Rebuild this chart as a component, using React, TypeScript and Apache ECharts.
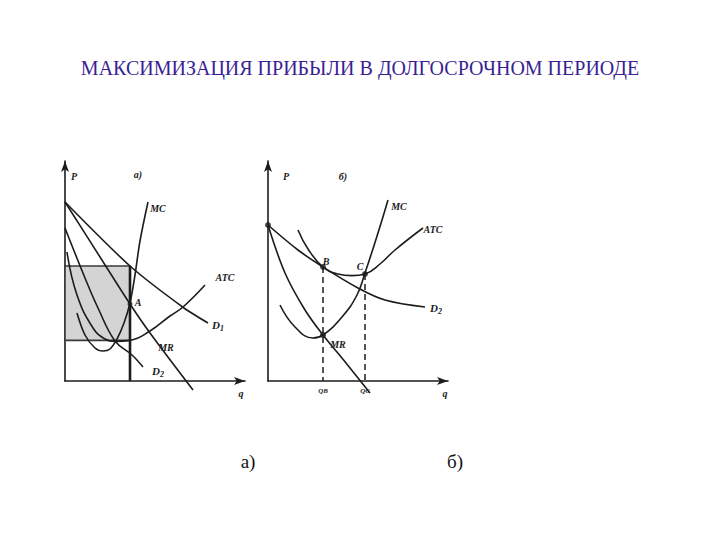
import React, { useEffect, useRef } from "react";
import * as echarts from "echarts";

const titleText = "МАКСИМИЗАЦИЯ ПРИБЫЛИ В ДОЛГОСРОЧНОМ ПЕРИОДЕ";
const captions = ["а)", "б)"];

// Panel а) — curves (q, P) in chart units
const aD1 = [[0, 89.5], [32.5, 57.5], [59.5, 36.5], [71.5, 29]];
const aMR = [[0, 89.5], [17.5, 62], [32.5, 38.5], [42.5, 24], [64, -4.5]];
const aD2 = [[0, 76.5], [10, 51.5], [16.5, 36.5], [25, 20], [33.5, 13], [39, 7]];
const aATC = [[1, 64.5], [6, 43], [14, 26.5], [20, 21], [25, 19.8], [32.5, 20.3], [42.5, 25], [52.5, 32.5], [59, 37], [70, 48]];
const aMC = [[6, 34], [10, 23], [15, 16.5], [19, 15], [22.5, 16], [26, 21], [29.5, 29], [32.5, 39], [35, 53], [37.5, 70], [41.5, 89.5]];
const aQ = 32.5;
const aPrice = 57.5;
const aCost = 20.3;
const aDots = [[32.5, 38.5]];

// Panel б)
const bD2 = [[0, 78], [15, 65.5], [27.5, 57], [45, 46.5], [58.5, 40.5], [78.5, 37]];
const bMR = [[0, 78], [8.5, 54], [18.5, 35.5], [27.5, 23], [39, 9], [51, -6]];
const bATC = [[15, 75.5], [20, 66], [27.5, 57], [35, 53.5], [42, 52.7], [48.5, 53.5], [56, 58.5], [63.5, 65.5], [77.5, 76.5]];
const bMC = [[6, 38], [13.5, 27], [22.5, 21.5], [27.5, 23], [37, 32], [44.5, 43], [48.5, 54], [55, 74], [60, 90.5]];
const bQB = [[27.5, 57], [27.5, 0]];
const bQC = [[48.5, 53.5], [48.5, 0]];
const bDots = [[0, 78], [27.5, 57], [48.5, 53.5], [27.5, 23]];

const INK = "#1c1c1c";
const SERIF = "Liberation Serif, Times New Roman, serif";

function curve(data: number[][], idx: number, smooth: number | boolean = 0.4) {
  return {
    type: "line",
    xAxisIndex: idx,
    yAxisIndex: idx,
    data,
    smooth,
    symbol: "none",
    clip: false,
    lineStyle: { color: INK, width: 1.6 },
    z: 5,
  };
}

export default function App() {
  const ref = useRef<HTMLDivElement>(null);
  useEffect(() => {
    if (!ref.current) return;
    const chart = echarts.init(ref.current, null, { renderer: "svg" });
    const axisX = (gi: number) => ({
      type: "value",
      gridIndex: gi,
      min: 0,
      max: 90,
      axisLine: { show: true, onZero: false, symbol: ["none", "arrow"], symbolSize: [6, 11], lineStyle: { color: INK, width: 1.6 } },
      axisTick: { show: false },
      axisLabel: { show: false },
      splitLine: { show: false },
    });
    const axisY = (gi: number) => ({
      type: "value",
      gridIndex: gi,
      min: 0,
      max: 110,
      axisLine: { show: true, onZero: false, symbol: ["none", "arrow"], symbolSize: [6, 11], lineStyle: { color: INK, width: 1.6 } },
      axisTick: { show: false },
      axisLabel: { show: false },
      splitLine: { show: false },
    });
    const lbl = (text: string, x: number, y: number, size = 10) => ({
      type: "text",
      x,
      y,
      style: {
        text,
        fill: INK,
        fontFamily: SERIF,
        fontStyle: "italic",
        fontWeight: "bold",
        fontSize: size,
        align: "center",
        verticalAlign: "middle",
      },
    });
    const sub = (base: string, s: string, x: number, y: number) => ({
      type: "group",
      x,
      y,
      children: [
        { type: "text", x: 0, y: 0, style: { text: base, fill: INK, fontFamily: SERIF, fontStyle: "italic", fontWeight: "bold", fontSize: 11, align: "center", verticalAlign: "middle" } },
        { type: "text", x: 6, y: 3, style: { text: s, fill: INK, fontFamily: SERIF, fontStyle: "italic", fontWeight: "bold", fontSize: 8, align: "center", verticalAlign: "middle" } },
      ],
    });
    const option: any = {
      animation: false,
      backgroundColor: "#ffffff",
      grid: [
        { left: 65, top: 161, width: 180, height: 220 },
        { left: 268, top: 161, width: 180, height: 220 },
      ],
      xAxis: [axisX(0), axisX(1)],
      yAxis: [axisY(0), axisY(1)],
      series: [
        {
          type: "line",
          xAxisIndex: 0,
          yAxisIndex: 0,
          data: [],
          symbol: "none",
          markArea: {
            silent: true,
            itemStyle: { color: "#d4d4d4", borderColor: "#3a3a3a", borderWidth: 1.6 },
            data: [[{ coord: [0, aPrice] }, { coord: [aQ, aCost] }]],
          },
        },
        {
          type: "line",
          xAxisIndex: 0,
          yAxisIndex: 0,
          data: [[aQ, aPrice], [aQ, 0]],
          symbol: "none",
          lineStyle: { color: INK, width: 2.6 },
          z: 4,
        },
        curve(aD1, 0, 0.25),
        curve(aMR, 0, 0.3),
        curve(aD2, 0, 0.4),
        curve(aATC, 0, 0.45),
        curve(aMC, 0, 0.35),
        {
          type: "scatter",
          xAxisIndex: 0,
          yAxisIndex: 0,
          data: aDots,
          symbolSize: 5,
          itemStyle: { color: INK },
          z: 6,
        },
        curve(bD2, 1, 0.35),
        curve(bMR, 1, 0.35),
        curve(bATC, 1, 0.45),
        curve(bMC, 1, 0.45),
        {
          type: "line",
          xAxisIndex: 1,
          yAxisIndex: 1,
          data: bQB,
          symbol: "none",
          lineStyle: { color: INK, width: 1.5, type: [6, 4] },
        },
        {
          type: "line",
          xAxisIndex: 1,
          yAxisIndex: 1,
          data: bQC,
          symbol: "none",
          lineStyle: { color: INK, width: 1.5, type: [6, 4] },
        },
        {
          type: "scatter",
          xAxisIndex: 1,
          yAxisIndex: 1,
          data: bDots,
          symbolSize: 6,
          itemStyle: { color: INK },
          z: 6,
        },
      ],
      graphic: [
        {
          type: "text",
          x: 360,
          y: 68,
          style: {
            text: titleText,
            fill: "#3a1f94",
            fontFamily: SERIF,
            fontSize: 20,
            align: "center",
            verticalAlign: "middle",
          },
        },
        {
          type: "text",
          x: 248,
          y: 461,
          style: { text: captions[0], fill: "#111", fontFamily: SERIF, fontSize: 19, align: "center", verticalAlign: "middle" },
        },
        {
          type: "text",
          x: 455,
          y: 461,
          style: { text: captions[1], fill: "#111", fontFamily: SERIF, fontSize: 19, align: "center", verticalAlign: "middle" },
        },
        lbl("P", 74, 176),
        lbl("а)", 138, 174),
        lbl("MC", 158, 208),
        lbl("ATC", 225, 277),
        sub("D", "1", 216, 325),
        lbl("A", 138, 302),
        lbl("MR", 166, 347),
        sub("D", "2", 156, 371),
        lbl("q", 241, 393),
        lbl("P", 286, 176),
        lbl("б)", 343, 176),
        lbl("MC", 399, 206),
        lbl("ATC", 433, 229),
        sub("D", "2", 434, 308),
        lbl("B", 326, 261),
        lbl("C", 360, 266),
        lbl("MR", 338, 344),
        lbl("QB", 323, 391, 7),
        lbl("QC", 365, 391, 7),
        lbl("q", 445, 393),
      ],
    };
    chart.setOption(option);
    return () => chart.dispose();
  }, []);
  return (
    <div
      ref={ref}
      style={{ position: "fixed", left: 0, top: 0, width: 720, height: 540, background: "#fff" }}
    />
  );
}
